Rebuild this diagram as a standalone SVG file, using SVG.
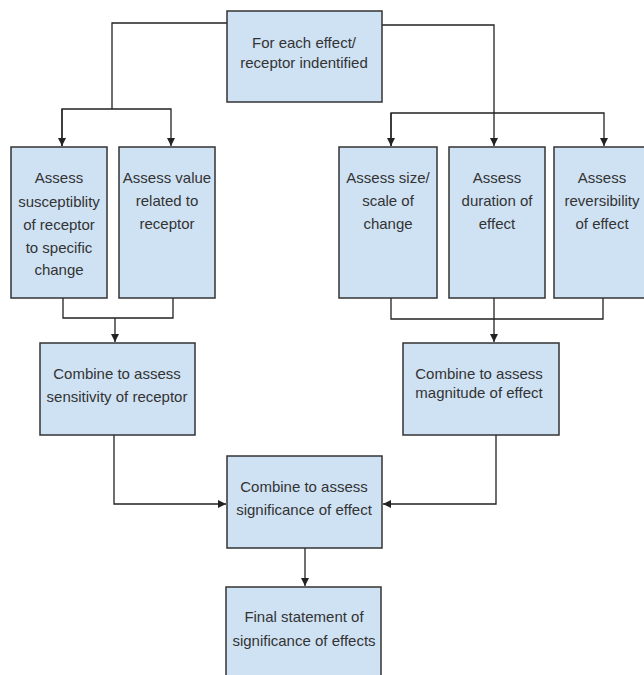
<svg xmlns="http://www.w3.org/2000/svg" width="644" height="675" viewBox="0 0 644 675">
<style>
.box{fill:#cfe2f3;stroke:#333;stroke-width:1.5}
.t{font-family:"Liberation Sans",Arial,sans-serif;font-size:15px;fill:#333;text-anchor:middle}
.c{fill:none;stroke:#222;stroke-width:1.3}
</style>
<defs>
<marker id="ah" markerWidth="8" markerHeight="8" refX="8" refY="4" orient="auto" markerUnits="userSpaceOnUse">
<path d="M0,0 L8,4 L0,8 Z" fill="#222"/>
</marker>
</defs>
<rect width="644" height="675" fill="#fff"/>
<g id="connectors">
<polyline class="c" points="227,23 112,23 112,109"/>
<polyline class="c" points="62,146 62,109 171,109 171,146" marker-end="url(#ah)"/>
<line class="c" x1="62" y1="109" x2="62" y2="146" marker-end="url(#ah)"/>
<polyline class="c" points="382,25 494,25 494,146" marker-end="url(#ah)"/>
<polyline class="c" points="391,146 391,113 604,113 604,146" marker-end="url(#ah)"/>
<line class="c" x1="391" y1="113" x2="391" y2="146" marker-end="url(#ah)"/>
<polyline class="c" points="63,298 63,318 173,318 173,298"/>
<line class="c" x1="115" y1="318" x2="115" y2="342" marker-end="url(#ah)"/>
<polyline class="c" points="391,298 391,319 603,319 603,298"/>
<line class="c" x1="494" y1="298" x2="494" y2="342" marker-end="url(#ah)"/>
<polyline class="c" points="114,435 114,504 226,504" marker-end="url(#ah)"/>
<polyline class="c" points="496,435 496,504 383,504" marker-end="url(#ah)"/>
<line class="c" x1="305" y1="548" x2="305" y2="586" marker-end="url(#ah)"/>
</g>
<g id="n-top"><rect class="box" x="227" y="11" width="155" height="91"/>
<text class="t" x="304" y="48">For each effect/</text><text class="t" x="304" y="68">receptor indentified</text></g>
<g id="n-susc"><rect class="box" x="11" y="147" width="96" height="151"/>
<text class="t" x="59" y="183">Assess</text><text class="t" x="59" y="207">susceptiblity</text><text class="t" x="59" y="230">of receptor</text><text class="t" x="59" y="253">to specific</text><text class="t" x="59" y="275">change</text></g>
<g id="n-value"><rect class="box" x="119" y="147" width="96" height="151"/>
<text class="t" x="167" y="183">Assess value</text><text class="t" x="167" y="206">related to</text><text class="t" x="167" y="229">receptor</text></g>
<g id="n-size"><rect class="box" x="339" y="147" width="98" height="151"/>
<text class="t" x="388" y="183">Assess size/</text><text class="t" x="388" y="206">scale of</text><text class="t" x="388" y="229">change</text></g>
<g id="n-duration"><rect class="box" x="449" y="147" width="96" height="151"/>
<text class="t" x="497" y="183">Assess</text><text class="t" x="497" y="206">duration of</text><text class="t" x="497" y="229">effect</text></g>
<g id="n-rev"><rect class="box" x="554" y="147" width="96" height="151"/>
<text class="t" x="602" y="183">Assess</text><text class="t" x="602" y="206">reversibility</text><text class="t" x="602" y="229">of effect</text></g>
<g id="n-sens"><rect class="box" x="40" y="343" width="155" height="92"/>
<text class="t" x="117" y="379">Combine to assess</text><text class="t" x="117" y="402">sensitivity of receptor</text></g>
<g id="n-mag"><rect class="box" x="403" y="343" width="156" height="92"/>
<text class="t" x="479" y="379">Combine to assess</text><text class="t" x="479" y="398">magnitude of effect</text></g>
<g id="n-sig"><rect class="box" x="227" y="456" width="155" height="92"/>
<text class="t" x="304" y="492">Combine to assess</text><text class="t" x="304" y="515">significance of effect</text></g>
<g id="n-final"><rect class="box" x="226" y="587" width="155" height="100"/>
<text class="t" x="304" y="622">Final statement of</text><text class="t" x="304" y="646">significance of effects</text></g>
</svg>
